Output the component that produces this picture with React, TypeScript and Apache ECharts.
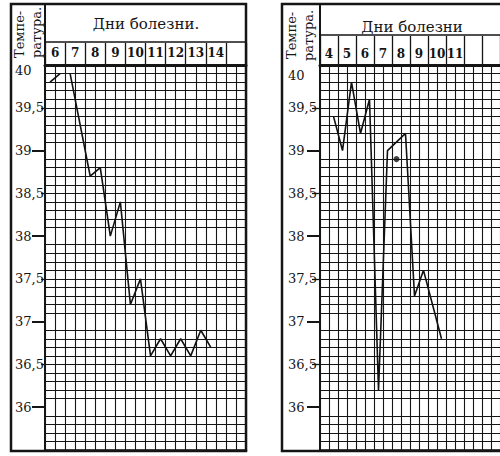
import React, { useEffect, useRef } from "react";
import * as echarts from "echarts";

// half-day slots (morning / evening) – 20 per chart
const leftDays = ["6", "7", "8", "9", "10", "11", "12", "13", "14", ""];
const rightDays = ["4", "5", "6", "7", "8", "9", "10", "11", "", ""];

// temperatures by half-day slot (null = not recorded)
const leftSeg1: (number | null)[] = [39.8, 39.9, null, null, null, null, null, null, null, null, null, null, null, null, null, null, null, null, null, null];
const leftSeg2: (number | null)[] = [null, null, 39.9, null, 38.7, 38.8, 38.0, 38.4, 37.2, 37.5, 36.6, 36.8, 36.6, 36.8, 36.6, 36.9, 36.7, null, null, null];
const rightCurve: (number | null)[] = [null, 39.4, 39.0, 39.8, 39.2, 39.6, 36.2, 39.0, null, 39.2, 37.3, 37.6, null, 36.8, null, null, null, null, null, null];
const rightDot: (number | null)[] = [null, null, null, null, null, null, null, null, 38.9, null, null, null, null, null, null, null, null, null, null, null];

const tempLabels = [36, 36.5, 37, 37.5, 38, 38.5, 39, 39.5, 40];
const majorTemps = [36, 37, 38, 39];

const SERIF = "DejaVu Serif";
const INK = "#151515";

function slotsFor(days: string[]) {
  const out: string[] = [];
  days.forEach((d, i) => {
    out.push(`${d || "d" + i}у`, `${d || "d" + i}в`);
  });
  return out;
}
const toData = (a: (number | null)[]) => a.map((v) => (v == null ? "-" : v));

function buildAxes(gi: number, days: string[], topTick: number, topMargin: number, labelMargin: number, topPad: number, halfTick: number) {
  const xAxes = [
    {
      type: "category",
      gridIndex: gi,
      data: slotsFor(days),
      boundaryGap: true,
      axisLabel: { show: false },
      axisTick: { show: false },
      axisLine: { show: true, lineStyle: { color: INK, width: 2.5 } },
      splitLine: { show: true, interval: 0, lineStyle: { color: INK, width: 1.1 } },
    },
    {
      type: "category",
      gridIndex: gi,
      position: "top",
      data: days,
      boundaryGap: true,
      axisLine: { show: true, lineStyle: { color: INK, width: 3 } },
      axisTick: { show: true, interval: 0, length: topTick, lineStyle: { color: INK, width: 1.3 } },
      axisLabel: { interval: 0, margin: topMargin, fontFamily: SERIF, fontWeight: "bold", fontSize: 12, color: INK },
      splitLine: { show: false },
    },
  ];
  const yAxes = [
    {
      type: "value",
      gridIndex: gi,
      position: "left",
      min: 35.5,
      max: 40,
      interval: 0.5,
      axisLine: { show: true, lineStyle: { color: INK, width: 2 } },
      axisTick: { show: true, length: halfTick, customValues: [36.5, 37.5, 38.5, 39.5], lineStyle: { color: INK, width: 1.3 } },
      axisLabel: {
        customValues: tempLabels,
        align: "left",
        margin: labelMargin,
        fontFamily: SERIF,
        fontSize: 13,
        color: INK,
        formatter: (v: number) => {
          const s = String(v).replace(".", ",");
          return v === 40 ? `{top|${s}}` : `{n|${s}}`;
        },
        rich: {
          n: { fontFamily: SERIF, fontSize: 13, color: INK },
          top: { fontFamily: SERIF, fontSize: 13, color: INK, padding: [topPad, 0, 0, 0] },
        },
      },
      splitLine: { show: true, lineStyle: { color: INK, width: 1.1 } },
      minorTick: { show: false, splitNumber: 5 },
      minorSplitLine: { show: true, lineStyle: { color: INK, width: 1.1 } },
    },
    {
      type: "value",
      gridIndex: gi,
      position: "left",
      offset: 0,
      min: 35.5,
      max: 40,
      interval: 0.5,
      axisLine: { show: false },
      axisTick: { show: true, length: 13, customValues: majorTemps, lineStyle: { color: INK, width: 2 } },
      axisLabel: { show: false },
      splitLine: { show: false },
    },
  ];
  return { xAxes, yAxes };
}

function txt(x: number, y: number, text: string, size: number, rotate: boolean, align: string = "center") {
  return {
    type: "text",
    x,
    y,
    rotation: rotate ? Math.PI / 2 : 0,
    z: 10,
    style: { text, fontFamily: SERIF, fontSize: size, fill: INK, align: rotate ? "left" : align, verticalAlign: "middle" },
  };
}

export default function App() {
  const ref = useRef<HTMLDivElement>(null);
  useEffect(() => {
    if (!ref.current) return;
    const chart = echarts.init(ref.current, null, { renderer: "svg" });
    const L = buildAxes(0, leftDays, 22, 6, 30, 10, 4);
    const R = buildAxes(1, rightDays, 29, 5, 32, 20, 8);
    const lineStyle = { color: "#111", width: 1.6 };
    const option = {
      animation: false,
      backgroundColor: "#ffffff",
      textStyle: { fontFamily: SERIF },
      grid: [
        { left: 45, top: 65, width: 201, height: 385 },
        { left: 320, top: 65, width: 201, height: 385 },
      ],
      xAxis: [...L.xAxes, ...R.xAxes],
      yAxis: [...L.yAxes, ...R.yAxes],
      series: [
        { type: "line", xAxisIndex: 0, yAxisIndex: 0, data: toData(leftSeg1), symbol: "none", lineStyle, connectNulls: false },
        { type: "line", xAxisIndex: 0, yAxisIndex: 0, data: toData(leftSeg2), symbol: "none", lineStyle, connectNulls: true },
        { type: "line", xAxisIndex: 2, yAxisIndex: 2, data: toData(rightCurve), symbol: "none", lineStyle, connectNulls: true },
        { type: "scatter", xAxisIndex: 2, yAxisIndex: 2, data: toData(rightDot), symbolSize: 6, itemStyle: { color: "#111" } },
      ],
      graphic: [
        { type: "rect", shape: { x: 11, y: 4, width: 235, height: 447 }, style: { fill: "none", stroke: INK, lineWidth: 2.5 }, z: 10 },
        { type: "line", shape: { x1: 45, y1: 42, x2: 246, y2: 42 }, style: { stroke: INK, lineWidth: 1.3 }, z: 10 },
        { type: "line", shape: { x1: 45, y1: 4, x2: 45, y2: 65 }, style: { stroke: INK, lineWidth: 2 }, z: 10 },
        txt(146, 24, "Дни болезни.", 15, false),
        txt(19, 58, "Темпе-", 13, true),
        txt(36, 58, "ратура.", 13, true),

        { type: "rect", shape: { x: 282, y: 4, width: 240, height: 447 }, style: { fill: "none", stroke: INK, lineWidth: 2.5 }, z: 10 },
        { type: "line", shape: { x1: 320, y1: 35, x2: 521, y2: 35 }, style: { stroke: INK, lineWidth: 1.3 }, z: 10 },
        { type: "line", shape: { x1: 320, y1: 4, x2: 320, y2: 65 }, style: { stroke: INK, lineWidth: 2 }, z: 10 },
        txt(412, 27, "Дни болезни", 15, false),
        txt(291, 59, "Темпе-", 13, true),
        txt(308, 61, "ратура.", 13, true),
      ],
    };
    chart.setOption(option as any);
    return () => chart.dispose();
  }, []);
  return (
    <div
      ref={ref}
      style={{ position: "fixed", left: 0, top: 0, width: 500, height: 456, overflow: "hidden", background: "#fff" }}
    />
  );
}
